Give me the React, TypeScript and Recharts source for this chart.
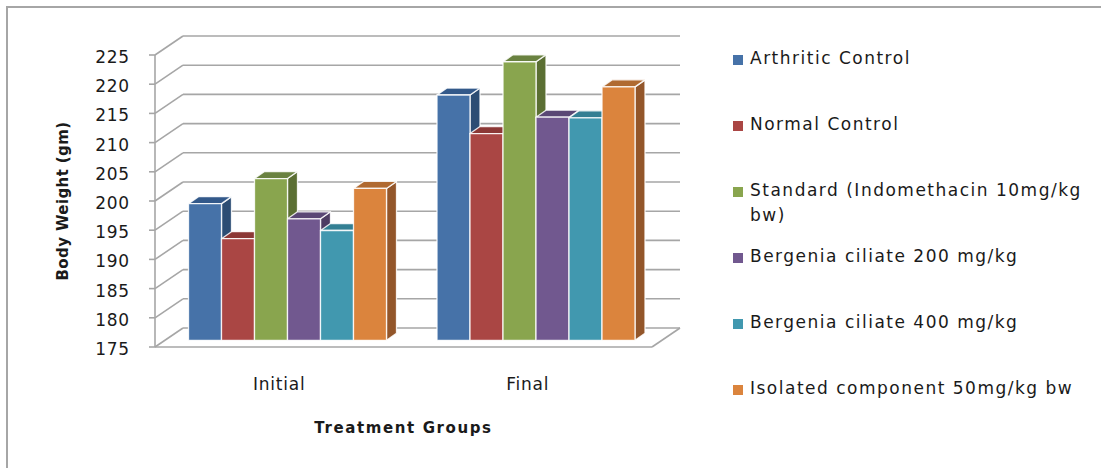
import { BarChart, Bar, XAxis, YAxis, CartesianGrid, Legend } from "recharts";

const categories = ["Initial", "Final"];
const arthriticControl = [198.4, 217.0];
const normalControl = [192.4, 210.4];
const standardIndomethacin = [202.7, 222.7];
const bergenia200 = [195.8, 213.2];
const bergenia400 = [193.8, 213.1];
const isolatedComponent = [201.0, 218.4];
const yTicks = [175, 180, 185, 190, 195, 200, 205, 210, 215, 220, 225];

const SERIES = [
  { key: "arthritic", name: "Arthritic Control", values: arthriticControl, front: "#4672a8", side: "#2c4d74", top: "#33598a" },
  { key: "normal", name: "Normal Control", values: normalControl, front: "#aa4644", side: "#7a2f2d", top: "#8c3836" },
  { key: "standard", name: "Standard (Indomethacin 10mg/kg bw)", values: standardIndomethacin, front: "#89a54e", side: "#5b6f33", top: "#6a8240" },
  { key: "b200", name: "Bergenia ciliate 200 mg/kg", values: bergenia200, front: "#71588f", side: "#4d3c63", top: "#5a4775" },
  { key: "b400", name: "Bergenia ciliate 400 mg/kg", values: bergenia400, front: "#4198af", side: "#2b6c7e", top: "#337f93" },
  { key: "isolated", name: "Isolated component 50mg/kg bw", values: isolatedComponent, front: "#db843d", side: "#93562a", top: "#b06a31" },
];

const data = categories.map((name, i) => {
  const row: Record<string, string | number> = { name };
  SERIES.forEach((s) => (row[s.key] = s.values[i]));
  return row;
});

const FONT = "'DejaVu Sans', sans-serif";
const GRID = "#a6a6a6";
// depth of the plot box (back wall offset) and of each bar
const WALL_DX = 28;
const WALL_DY = -19;
const BAR_SHIFT_X = 8.5;
const BAR_SHIFT_Y = -6.7;
const BAR_DX = 10;
const BAR_DY = -7;

function Box3D(props: any) {
  const { x, y, width, height, front, side, top } = props;
  if (!height || height <= 0) return null;
  const fx = x + BAR_SHIFT_X;
  const fy = y + BAR_SHIFT_Y;
  const r = fx + width;
  const b = fy + height;
  const edge = { stroke: "#ffffff", strokeWidth: 1.3, strokeOpacity: 0.85, strokeLinejoin: "round" as const };
  return (
    <g>
      <polygon
        points={`${r},${fy} ${r + BAR_DX},${fy + BAR_DY} ${r + BAR_DX},${b + BAR_DY} ${r},${b}`}
        fill={side}
        {...edge}
      />
      <polygon
        points={`${fx},${fy} ${fx + BAR_DX},${fy + BAR_DY} ${r + BAR_DX},${fy + BAR_DY} ${r},${fy}`}
        fill={top}
        {...edge}
      />
      <rect x={fx} y={fy} width={width} height={height} fill={front} {...edge} />
    </g>
  );
}

// gridline on the back wall plus the diagonal running back from the front axis
function WallLine(props: any) {
  const { x1, y1, x2, y, height } = props;
  const isFloor = Math.abs(y1 - (y + height)) < 1;
  return (
    <g stroke={GRID} strokeWidth={1.6} fill="none">
      <line x1={x1} y1={y1} x2={x1 + WALL_DX} y2={y1 + WALL_DY} />
      <line x1={x1 + WALL_DX} y1={y1 + WALL_DY} x2={x2 + WALL_DX} y2={y1 + WALL_DY} />
      {isFloor && <line x1={x2} y1={y1} x2={x2 + WALL_DX} y2={y1 + WALL_DY} />}
    </g>
  );
}

function LegendList() {
  return (
    <div style={{ fontFamily: FONT, fontSize: 17, letterSpacing: 1.5, color: "#1a1a1a" }}>
      {SERIES.map((s) => (
        <div key={s.key} style={{ height: 66, display: "flex", alignItems: "flex-start" }}>
          <span
            style={{ width: 10, height: 10, background: s.front, marginTop: 7, marginRight: 7, flex: "none" }}
          />
          <span style={{ width: 345, lineHeight: "25px", marginTop: -2 }}>{s.name}</span>
        </div>
      ))}
    </div>
  );
}

export default function App() {
  return (
    <div style={{ position: "absolute", left: 0, top: 0, width: 1101, height: 468, overflow: "hidden", background: "#fff" }}>
      <div
        style={{ position: "absolute", left: 6, top: 6, width: 1120, height: 490, border: "2px solid #a6a6a6" }}
      />
      <BarChart
        width={1101}
        height={468}
        data={data}
        margin={{ top: 55, right: 449, bottom: 31, left: 40 }}
        barSize={33}
        barGap={0}
      >
        <CartesianGrid vertical={false} horizontal={(p: any) => <WallLine key={p.key} {...p} />} />
        <XAxis
          dataKey="name"
          height={90}
          tickLine={false}
          tickSize={0}
          tickMargin={31}
          axisLine={{ stroke: GRID, strokeWidth: 1.6 }}
          tick={{ fill: "#1a1a1a", fontSize: 17, fontFamily: FONT, letterSpacing: 0.8 }}
          label={{
            value: "Treatment Groups",
            position: "insideBottom",
            offset: 4,
            style: { fill: "#1a1a1a", fontSize: 15, fontWeight: "bold", fontFamily: FONT, letterSpacing: 1.6 },
          }}
        />
        <YAxis
          width={115}
          domain={[175, 225]}
          ticks={yTicks}
          interval={0}
          tickSize={6}
          tickMargin={19}
          axisLine={{ stroke: GRID, strokeWidth: 1.6 }}
          tickLine={{ stroke: GRID, strokeWidth: 1.6 }}
          tick={{ fill: "#1a1a1a", fontSize: 17, fontFamily: FONT, letterSpacing: 0.8, dy: 2 }}
          label={{
            value: "Body Weight (gm)",
            angle: -90,
            position: "insideLeft",
            offset: 23,
            style: { textAnchor: "middle", fill: "#1a1a1a", fontSize: 15, fontWeight: "bold", fontFamily: FONT, letterSpacing: 0.4 },
          }}
        />
        <Legend
          layout="horizontal"
          align="center"
          verticalAlign="middle"
          wrapperStyle={{ left: 733, top: 48, width: 365 }}
          content={() => <LegendList />}
        />
        {SERIES.map((s) => (
          <Bar
            key={s.key}
            dataKey={s.key}
            name={s.name}
            fill={s.front}
            isAnimationActive={false}
            shape={(p: any) => <Box3D {...p} front={s.front} side={s.side} top={s.top} />}
          />
        ))}
      </BarChart>
    </div>
  );
}
